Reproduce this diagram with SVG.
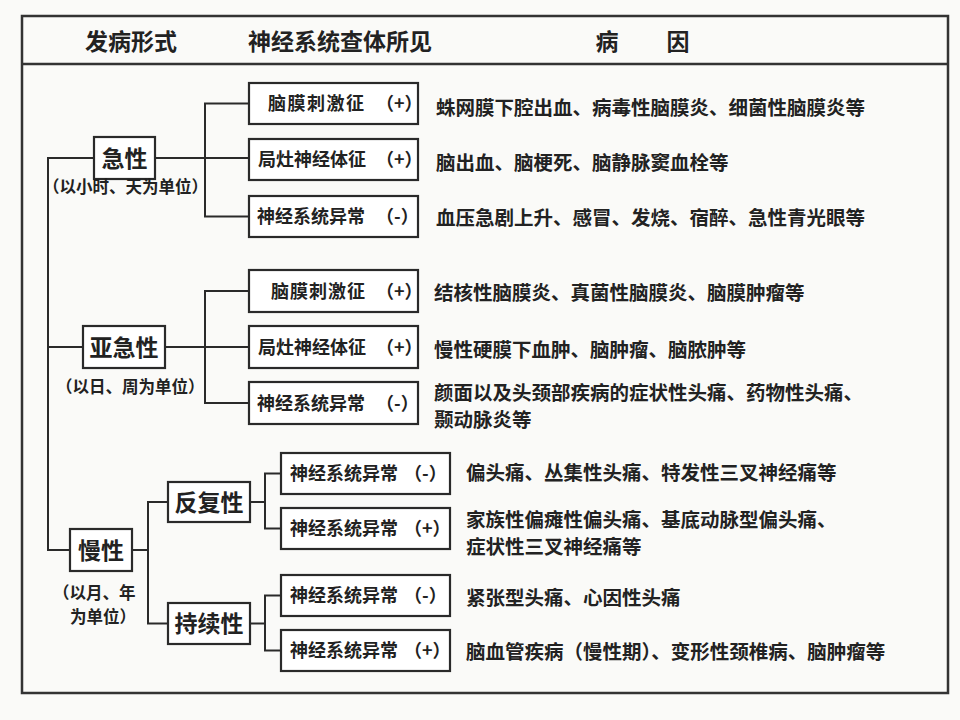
<svg xmlns="http://www.w3.org/2000/svg" width="960" height="720" viewBox="0 0 960 720">
<style>
text{font-family:"Noto Sans CJK SC","Noto Sans CJK TC",sans-serif;fill:#222}
.h{font-size:23px;font-weight:bold;text-anchor:middle}
.cat{font-size:23px;font-weight:bold;text-anchor:middle}
.bx{font-size:18px;font-weight:bold}
.u{font-size:16.5px;font-weight:bold}
.r{font-size:19.5px;font-weight:bold}
.box{fill:#fff;stroke:#2a2a2a;stroke-width:2.2}
.ln{fill:none;stroke:#2a2a2a;stroke-width:2}
.fr{fill:none;stroke:#333;stroke-width:2.5}
</style>
<rect x="0" y="0" width="960" height="720" fill="#fafaf8"/>
<g id="frame">
<rect class="fr" x="22" y="16" width="926" height="677"/>
<line class="fr" x1="22" y1="64" x2="948" y2="64" stroke-width="3"/>
</g>
<g id="header">
<text class="h" x="131" y="50">发病形式</text>
<text class="h" x="340" y="50">神经系统查体所见</text>
<text class="h" x="607" y="50">病</text>
<text class="h" x="678" y="50">因</text>
</g>
<g id="connectors">
<polyline class="ln" points="94,158 48,158 48,550 70,550"/>
<line class="ln" x1="48" y1="347" x2="83" y2="347"/>
<line class="ln" x1="155" y1="158" x2="249" y2="158"/>
<polyline class="ln" points="249,103.5 205,103.5 205,216.5 249,216.5"/>
<line class="ln" x1="165" y1="347" x2="249" y2="347"/>
<polyline class="ln" points="249,291 205,291 205,403 249,403"/>
<line class="ln" x1="132" y1="550" x2="148" y2="550"/>
<polyline class="ln" points="168,502 148,502 148,623.5 168,623.5"/>
<line class="ln" x1="250" y1="502" x2="265" y2="502"/>
<polyline class="ln" points="281,473.5 265,473.5 265,528.5 281,528.5"/>
<line class="ln" x1="250" y1="623.5" x2="265" y2="623.5"/>
<polyline class="ln" points="281,595.5 265,595.5 265,650.5 281,650.5"/>
</g>
<g id="acute">
<rect class="box" x="94" y="137" width="61" height="42"/>
<text class="cat" x="124.5" y="166.5">急性</text>
<text class="u" x="43" y="193">（以小时、天为单位）</text>
</g>
<g id="acute-meningeal">
<rect class="box" x="249" y="83" width="169" height="41"/>
<text class="bx" x="268" y="110" letter-spacing="1.5">脑膜刺激征<tspan x="376" letter-spacing="0">（+）</tspan></text>
<text class="r" x="436" y="115">蛛网膜下腔出血、病毒性脑膜炎、细菌性脑膜炎等</text>
</g>
<g id="acute-focal">
<rect class="box" x="249" y="139" width="169" height="41"/>
<text class="bx" x="258" y="166">局灶神经体征<tspan x="376">（+）</tspan></text>
<text class="r" x="436" y="170">脑出血、脑梗死、脑静脉窦血栓等</text>
</g>
<g id="acute-abnormal">
<rect class="box" x="249" y="196" width="169" height="41"/>
<text class="bx" x="257" y="223">神经系统异常<tspan x="376">（-）</tspan></text>
<text class="r" x="436" y="225">血压急剧上升、感冒、发烧、宿醉、急性青光眼等</text>
</g>
<g id="subacute">
<rect class="box" x="83" y="326" width="82" height="42"/>
<text class="cat" x="124" y="355.5">亚急性</text>
<text class="u" x="56" y="393">（以日、周为单位）</text>
</g>
<g id="subacute-meningeal">
<rect class="box" x="249" y="270" width="169" height="42"/>
<text class="bx" x="271" y="297.5" letter-spacing="1">脑膜刺激征<tspan x="376" letter-spacing="0">（+）</tspan></text>
<text class="r" x="434" y="300">结核性脑膜炎、真菌性脑膜炎、脑膜肿瘤等</text>
</g>
<g id="subacute-focal">
<rect class="box" x="249" y="326" width="169" height="42"/>
<text class="bx" x="258" y="353.5">局灶神经体征<tspan x="376">（+）</tspan></text>
<text class="r" x="434" y="357">慢性硬膜下血肿、脑肿瘤、脑脓肿等</text>
</g>
<g id="subacute-abnormal">
<rect class="box" x="249" y="382" width="169" height="42"/>
<text class="bx" x="257" y="409.5">神经系统异常<tspan x="376">（-）</tspan></text>
<text class="r" x="434" y="400">颜面以及头颈部疾病的症状性头痛、药物性头痛、</text>
<text class="r" x="434" y="427">颞动脉炎等</text>
</g>
<g id="chronic">
<rect class="box" x="70" y="529" width="62" height="42"/>
<text class="cat" x="101" y="558.5">慢性</text>
<text class="u" x="53" y="599">（以月、年</text>
<text class="u" x="70" y="623">为单位）</text>
</g>
<g id="recurrent">
<rect class="box" x="168" y="482" width="82" height="40"/>
<text class="cat" x="209" y="510.5">反复性</text>
</g>
<g id="recurrent-minus">
<rect class="box" x="281" y="453" width="169" height="41"/>
<text class="bx" x="290" y="480">神经系统异常<tspan x="404">（-）</tspan></text>
<text class="r" x="466" y="480">偏头痛、丛集性头痛、特发性三叉神经痛等</text>
</g>
<g id="recurrent-plus">
<rect class="box" x="281" y="508" width="169" height="41"/>
<text class="bx" x="290" y="535">神经系统异常<tspan x="404">（+）</tspan></text>
<text class="r" x="466" y="527">家族性偏瘫性偏头痛、基底动脉型偏头痛、</text>
<text class="r" x="466" y="554">症状性三叉神经痛等</text>
</g>
<g id="persistent">
<rect class="box" x="168" y="603" width="82" height="41"/>
<text class="cat" x="209" y="632">持续性</text>
</g>
<g id="persistent-minus">
<rect class="box" x="281" y="575" width="169" height="41"/>
<text class="bx" x="290" y="602">神经系统异常<tspan x="404">（-）</tspan></text>
<text class="r" x="466" y="605">紧张型头痛、心因性头痛</text>
</g>
<g id="persistent-plus">
<rect class="box" x="281" y="630" width="169" height="41"/>
<text class="bx" x="290" y="657">神经系统异常<tspan x="404">（+）</tspan></text>
<text class="r" x="466" y="659">脑血管疾病（慢性期）、变形性颈椎病、脑肿瘤等</text>
</g>
</svg>
